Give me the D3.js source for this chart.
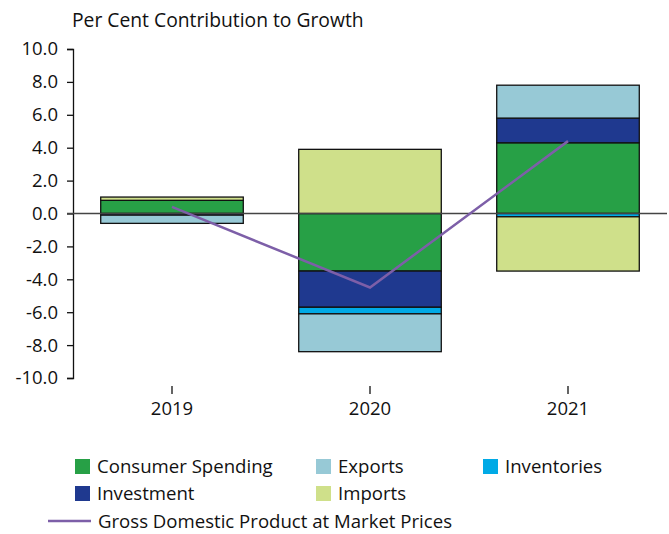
<!DOCTYPE html>
<html>
<head>
  <meta charset="utf-8">
  <script src="https://d3js.org/d3.v7.min.js"></script>
  <style>
    body { margin: 0; background: #fff; }
    text { font-family: "Open Sans", sans-serif; fill: #111; }
  </style>
</head>
<body>
  <script>
    // data
    var years = ["2019", "2020", "2021"];
    var consumer = [0.8, -3.5, 4.3];
    var investment = [-0.1, -2.2, 1.5];
    var inventories = [0.0, -0.4, -0.2];
    var exportsVals = [-0.5, -2.3, 2.0];
    var imports = [0.2, 3.9, -3.3];
    var gdp = [0.4, -4.5, 4.4];
    var yTicks = [10, 8, 6, 4, 2, 0, -2, -4, -6, -8, -10];

    var seriesNames = ["Consumer Spending", "Investment", "Inventories", "Exports", "Imports"];
    var seriesValues = [consumer, investment, inventories, exportsVals, imports];
    var colors = ["#27a046", "#1f398f", "#00aae6", "#97c9d6", "#cfe08a"];
    var gdpColor = "#7d5fa8";

    var width = 669, height = 534;
    var svg = d3.select("body").append("svg")
      .attr("width", width)
      .attr("height", height);

    var x = d3.scaleBand().domain(years).range([73, 667]).paddingInner(0.28).paddingOuter(0.14);
    var y = d3.scaleLinear().domain([-10, 10]).range([378, 49]);

    // table for stacking
    var table = years.map(function(yr, i) {
      var row = { year: yr };
      seriesNames.forEach(function(n, k) { row[n] = seriesValues[k][i]; });
      return row;
    });
    var stack = d3.stack().keys(seriesNames).offset(d3.stackOffsetDiverging);
    var layers = stack(table);

    // title
    svg.append("text")
      .attr("x", 72).attr("y", 27)
      .style("font-size", "19.3px")
      .text("Per Cent Contribution to Growth");

    // y axis
    var yAxis = d3.axisLeft(y).tickValues(yTicks).tickSize(6).tickPadding(9)
      .tickFormat(function(d) { return d.toFixed(1); });
    var gy = svg.append("g").attr("transform", "translate(73,0)").call(yAxis);
    gy.select(".domain").attr("stroke", "#111").attr("stroke-width", 1.3);
    gy.selectAll(".tick line").attr("stroke", "#111").attr("stroke-width", 1.3);
    gy.selectAll("text").style("font-size", "18.5px").style("font-family", "'Open Sans', sans-serif").attr("fill", "#111");

    // bars
    svg.append("g").selectAll("g")
      .data(layers).enter().append("g")
      .attr("fill", function(d, i) { return colors[i]; })
      .selectAll("rect")
      .data(function(d) { return d; }).enter().append("rect")
      .attr("x", function(d) { return x(d.data.year); })
      .attr("width", x.bandwidth())
      .attr("y", function(d) { return y(Math.max(d[0], d[1])); })
      .attr("height", function(d) { return Math.abs(y(d[0]) - y(d[1])); })
      .attr("stroke", "#111")
      .attr("stroke-width", 1.3);

    // zero line
    svg.append("line")
      .attr("x1", 67).attr("x2", 667)
      .attr("y1", y(0)).attr("y2", y(0))
      .attr("stroke", "#444").attr("stroke-width", 1.5);

    // gdp line
    var line = d3.line()
      .x(function(d, i) { return x(years[i]) + x.bandwidth() / 2; })
      .y(function(d) { return y(d); });
    svg.append("path")
      .datum(gdp)
      .attr("d", line)
      .attr("fill", "none")
      .attr("stroke", gdpColor)
      .attr("stroke-width", 2.5);

    // x axis: ticks and labels only
    var xAxis = d3.axisBottom(x).tickSize(8).tickPadding(8);
    var gx = svg.append("g").attr("transform", "translate(0,386)").call(xAxis);
    gx.select(".domain").remove();
    gx.selectAll(".tick line").attr("stroke", "#111").attr("stroke-width", 1.3);
    gx.selectAll("text").style("font-size", "18.5px").style("font-family", "'Open Sans', sans-serif").attr("fill", "#111");

    // legend
    var legendItems = [
      { name: "Consumer Spending", color: colors[0], x: 75, y: 466 },
      { name: "Exports", color: colors[3], x: 316, y: 466 },
      { name: "Inventories", color: colors[2], x: 483, y: 466 },
      { name: "Investment", color: colors[1], x: 75, y: 493 },
      { name: "Imports", color: colors[4], x: 316, y: 493 }
    ];
    var lg = svg.append("g");
    legendItems.forEach(function(it) {
      lg.append("rect")
        .attr("x", it.x).attr("y", it.y - 7)
        .attr("width", 15).attr("height", 15)
        .attr("fill", it.color);
      lg.append("text")
        .attr("x", it.x + 22).attr("y", it.y + 7)
        .style("font-size", "18.6px")
        .text(it.name);
    });
    lg.append("line")
      .attr("x1", 48).attr("x2", 91)
      .attr("y1", 521).attr("y2", 521)
      .attr("stroke", gdpColor).attr("stroke-width", 2.5);
    lg.append("text")
      .attr("x", 98).attr("y", 528)
      .style("font-size", "18.6px")
      .text("Gross Domestic Product at Market Prices");
  </script>
</body>
</html>
